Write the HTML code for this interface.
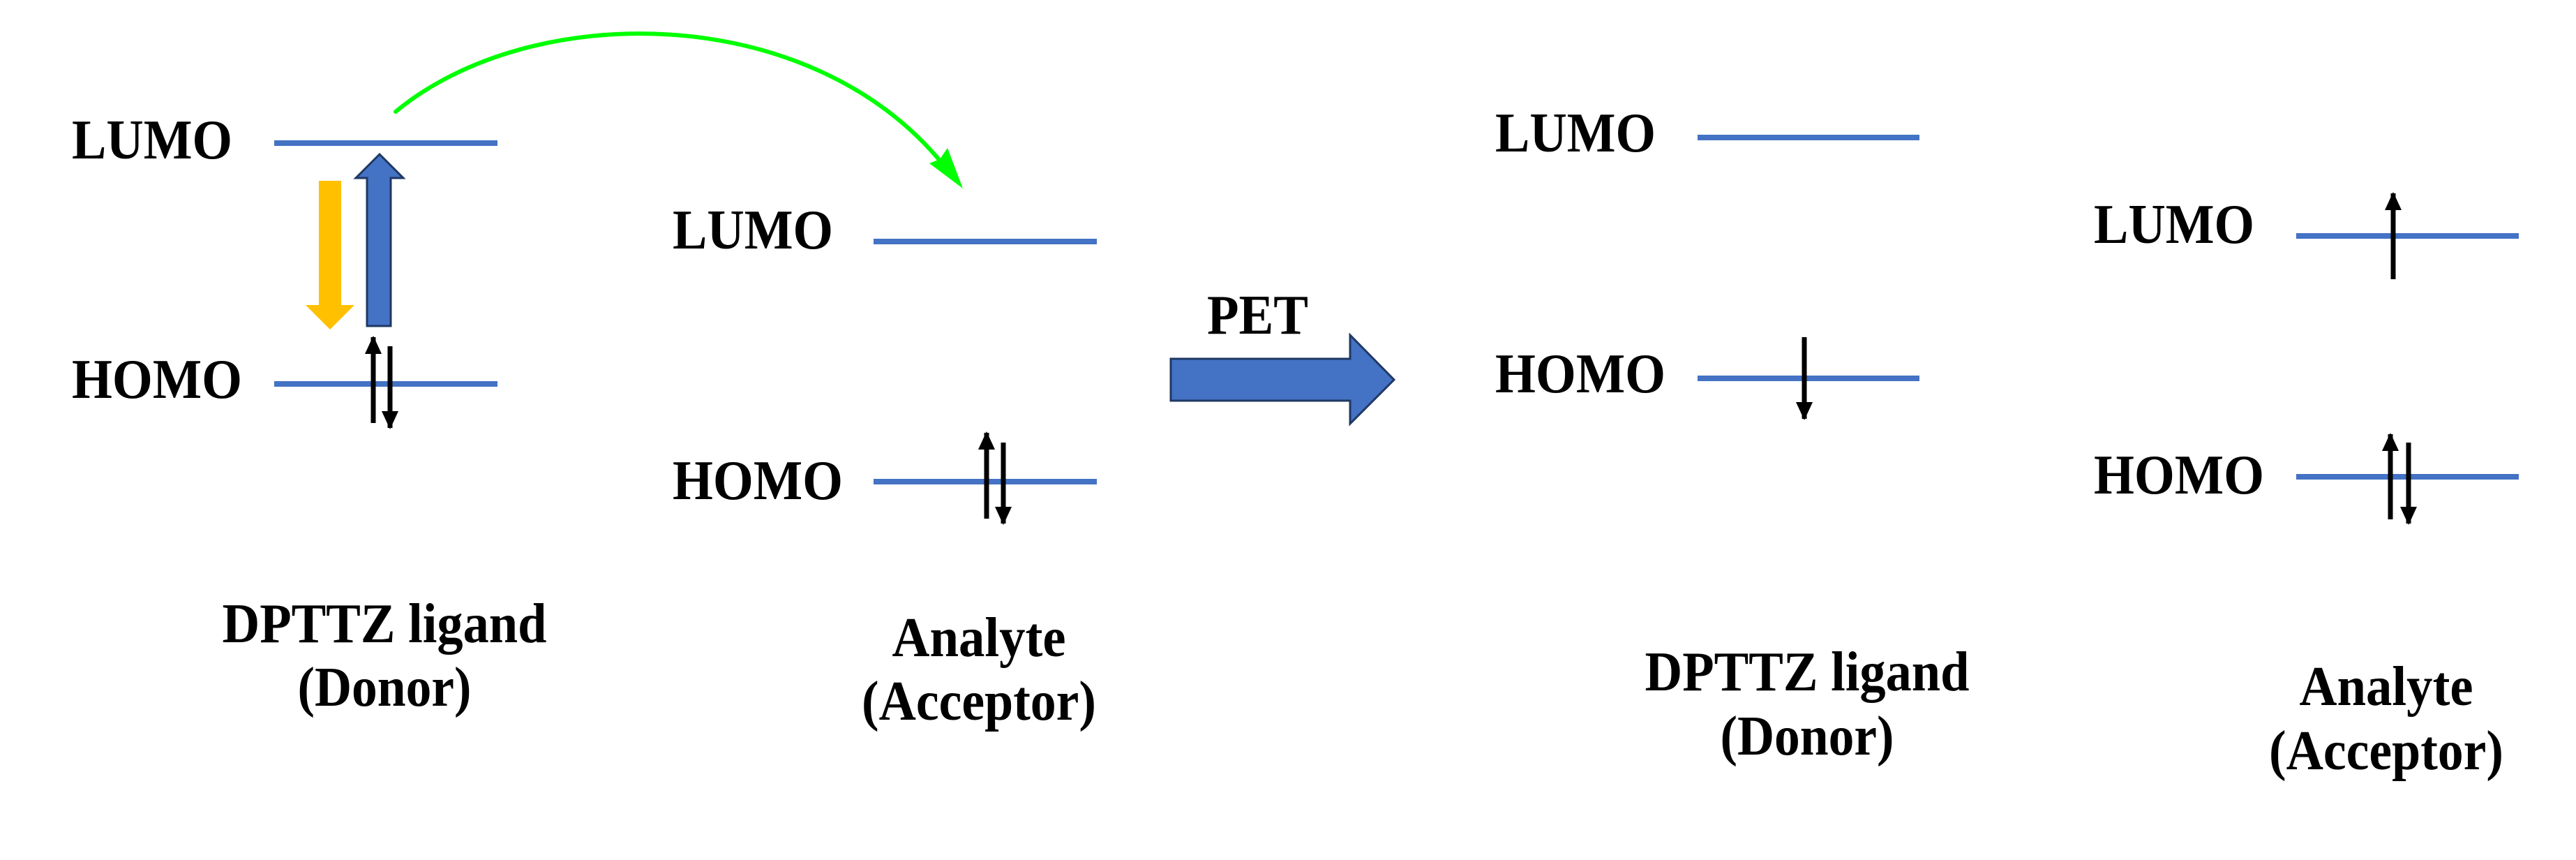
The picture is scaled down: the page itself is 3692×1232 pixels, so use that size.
<!DOCTYPE html>
<html><head><meta charset="utf-8"><style>
html,body{margin:0;padding:0;background:#fff;}
svg{display:block;}
text{font-family:"Liberation Serif",serif;font-weight:bold;fill:#000;}
</style></head><body>
<svg width="3692" height="1232" viewBox="0 0 3692 1232" xmlns="http://www.w3.org/2000/svg">
<defs>
<marker id="ah" markerWidth="26" markerHeight="28" refX="24" refY="12" orient="auto" markerUnits="userSpaceOnUse" viewBox="0 0 26 24"><path d="M0,0 L26,12 L0,24 z" fill="#000"/></marker>
</defs>
<g font-size="80" lengthAdjust="spacingAndGlyphs">
<text x="103" y="227" textLength="230" lengthAdjust="spacingAndGlyphs">LUMO</text>
<text x="103" y="570" textLength="244" lengthAdjust="spacingAndGlyphs">HOMO</text>
<text x="964" y="356" textLength="230" lengthAdjust="spacingAndGlyphs">LUMO</text>
<text x="964" y="715" textLength="244" lengthAdjust="spacingAndGlyphs">HOMO</text>
<text x="2143" y="217" textLength="230" lengthAdjust="spacingAndGlyphs">LUMO</text>
<text x="2143" y="562" textLength="244" lengthAdjust="spacingAndGlyphs">HOMO</text>
<text x="3001" y="348" textLength="230" lengthAdjust="spacingAndGlyphs">LUMO</text>
<text x="3001" y="707" textLength="244" lengthAdjust="spacingAndGlyphs">HOMO</text>
<text x="1730" y="478" textLength="145" lengthAdjust="spacingAndGlyphs">PET</text>
</g>
<g font-size="80" text-anchor="middle">
<text x="551" y="920" textLength="465" lengthAdjust="spacingAndGlyphs">DPTTZ ligand</text>
<text x="551" y="1011" textLength="249" lengthAdjust="spacingAndGlyphs">(Donor)</text>
<text x="1403" y="940" textLength="249" lengthAdjust="spacingAndGlyphs">Analyte</text>
<text x="1403" y="1031" textLength="336" lengthAdjust="spacingAndGlyphs">(Acceptor)</text>
<text x="2590" y="989" textLength="465" lengthAdjust="spacingAndGlyphs">DPTTZ ligand</text>
<text x="2590" y="1081" textLength="249" lengthAdjust="spacingAndGlyphs">(Donor)</text>
<text x="3420" y="1010" textLength="249" lengthAdjust="spacingAndGlyphs">Analyte</text>
<text x="3420" y="1102" textLength="336" lengthAdjust="spacingAndGlyphs">(Acceptor)</text>
</g>
<g stroke="#4472C4" stroke-width="8">
<line x1="393" y1="205" x2="713" y2="205"/>
<line x1="393" y1="550" x2="713" y2="550"/>
<line x1="1252" y1="346" x2="1572" y2="346"/>
<line x1="1252" y1="690" x2="1572" y2="690"/>
<line x1="2433" y1="197" x2="2751" y2="197"/>
<line x1="2433" y1="542" x2="2751" y2="542"/>
<line x1="3291" y1="338" x2="3610" y2="338"/>
<line x1="3291" y1="683" x2="3610" y2="683"/>
</g>
<!-- yellow arrow -->
<polygon points="457,259 489,259 489,437 508,437 473,472 438,437 457,437" fill="#FFC000"/>
<!-- blue up arrow -->
<polygon points="526,467 560,467 560,255 578,255 544,221 510,255 526,255" fill="#4472C4" stroke="#1F3864" stroke-width="3"/>
<!-- big PET arrow -->
<polygon points="1678,514 1935,514 1935,480 1998,544 1935,607 1935,574 1678,574" fill="#4472C4" stroke="#1F3864" stroke-width="3"/>
<!-- green curve -->
<path d="M567,160 C760,0 1160,0 1352,236" fill="none" stroke="#00FF00" stroke-width="6" stroke-linecap="round"/>
<polygon points="1380,270 1332,234 1347,228 1358,212" fill="#00FF00"/>
<!-- electron arrows -->
<g stroke="#000" stroke-width="7" marker-end="url(#ah)">
<line x1="535" y1="606" x2="535" y2="483"/>
<line x1="559" y1="496" x2="559" y2="613"/>
<line x1="1414" y1="743" x2="1414" y2="620"/>
<line x1="1438" y1="634" x2="1438" y2="750"/>
<line x1="2586" y1="483" x2="2586" y2="600"/>
<line x1="3430" y1="400" x2="3430" y2="277"/>
<line x1="3426" y1="744" x2="3426" y2="622"/>
<line x1="3452" y1="634" x2="3452" y2="750"/>
</g>
</svg>
</body></html>
